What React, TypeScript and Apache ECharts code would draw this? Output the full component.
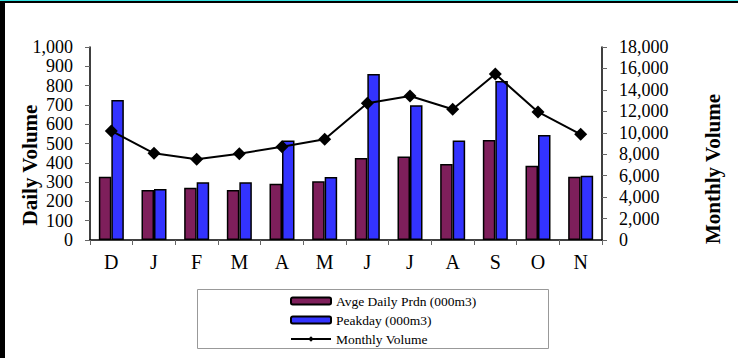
import React, { useEffect, useRef } from "react";
import * as echarts from "echarts";

const categories = ["D", "J", "F", "M", "A", "M", "J", "J", "A", "S", "O", "N"];
const avgDaily = [328, 259, 271, 259, 292, 304, 425, 433, 394, 518, 385, 328];
const peakDay = [725, 264, 299, 299, 516, 326, 860, 698, 515, 824, 544, 333];
const monthlyVolume = [10170, 8080, 7530, 8050, 8700, 9390, 12750, 13430, 12190, 15480, 11940, 9860];

const FONT = '"Liberation Serif", "Times New Roman", serif';

export default function App() {
  const ref = useRef<HTMLDivElement>(null);
  useEffect(() => {
    if (!ref.current) return;
    const chart = echarts.init(ref.current, null, { renderer: "svg" });
    const fmt = (v: number) => v.toLocaleString("en-US");
    chart.setOption({
      animation: false,
      backgroundColor: "#ffffff",
      textStyle: { fontFamily: FONT },
      grid: { left: 90, right: 136, top: 47, bottom: 118, containLabel: false },
      xAxis: {
        type: "category",
        data: categories,
        boundaryGap: true,
        axisLine: { lineStyle: { color: "#000", width: 1.5 } },
        axisTick: { show: true, alignWithLabel: false, length: 5, lineStyle: { color: "#666" } },
        axisLabel: { fontFamily: FONT, fontSize: 20, color: "#000", margin: 12 },
      },
      yAxis: [
        {
          type: "value",
          min: 0,
          max: 1000,
          interval: 100,
          position: "left",
          axisLine: { show: true, lineStyle: { color: "#000", width: 1.5 } },
          axisTick: { show: true, length: 5, lineStyle: { color: "#666" } },
          splitLine: { show: false },
          axisLabel: { fontFamily: FONT, fontSize: 18, color: "#000", margin: 17, formatter: fmt },
        },
        {
          type: "value",
          min: 0,
          max: 18000,
          interval: 2000,
          position: "right",
          axisLine: { show: true, lineStyle: { color: "#000", width: 1.5 } },
          axisTick: { show: true, length: 5, lineStyle: { color: "#666" } },
          splitLine: { show: false },
          axisLabel: { fontFamily: FONT, fontSize: 18, color: "#000", margin: 17, formatter: fmt },
        },
      ],
      legend: {
        orient: "vertical",
        left: 290,
        top: 294,
        padding: 0,
        itemWidth: 40,
        itemHeight: 7,
        itemGap: 5,
        textStyle: { fontFamily: FONT, fontSize: 13.5, color: "#000", lineHeight: 13 },
        data: ["Avge Daily Prdn (000m3)", "Peakday (000m3)", "Monthly Volume"],
      },
      graphic: [
        { type: "rect", shape: { x: 0, y: 0, width: 738, height: 1 }, style: { fill: "#33E0E0" } },
        { type: "rect", shape: { x: 0, y: 1, width: 738, height: 2 }, style: { fill: "#000" } },
        { type: "rect", shape: { x: 0, y: 1, width: 5, height: 357 }, style: { fill: "#000" } },
        {
          type: "rect",
          shape: { x: 197.5, y: 289.5, width: 351, height: 59 },
          style: { fill: "none", stroke: "#999", lineWidth: 1 },
        },
        {
          type: "text",
          x: 30,
          y: 165,
          rotation: Math.PI / 2,
          style: {
            text: "Daily Volume",
            fontFamily: FONT,
            fontSize: 21,
            fontWeight: "bold",
            fill: "#000",
            textAlign: "center",
            textVerticalAlign: "middle",
          },
        },
        {
          type: "text",
          x: 713,
          y: 169,
          rotation: Math.PI / 2,
          style: {
            text: "Monthly Volume",
            fontFamily: FONT,
            fontSize: 21,
            fontWeight: "bold",
            fill: "#000",
            textAlign: "center",
            textVerticalAlign: "middle",
          },
        },
      ],
      series: [
        {
          name: "Avge Daily Prdn (000m3)",
          type: "bar",
          yAxisIndex: 0,
          data: avgDaily,
          barWidth: 12.5,
          barGap: "0%",
          itemStyle: { color: "#7E1F5B", borderColor: "#000", borderWidth: 1.5 },
        },
        {
          name: "Peakday (000m3)",
          type: "bar",
          yAxisIndex: 0,
          data: peakDay,
          barWidth: 12.5,
          barGap: "0%",
          itemStyle: { color: "#3333FF", borderColor: "#000", borderWidth: 1.5 },
        },
        {
          name: "Monthly Volume",
          type: "line",
          yAxisIndex: 1,
          data: monthlyVolume,
          symbol: "diamond",
          symbolSize: 13,
          lineStyle: { color: "#000", width: 2 },
          itemStyle: { color: "#000" },
          z: 5,
        },
      ],
    });
    return () => chart.dispose();
  }, []);
  return (
    <div
      ref={ref}
      style={{ position: "fixed", left: 0, top: 0, width: 738, height: 358, background: "#fff" }}
    />
  );
}
